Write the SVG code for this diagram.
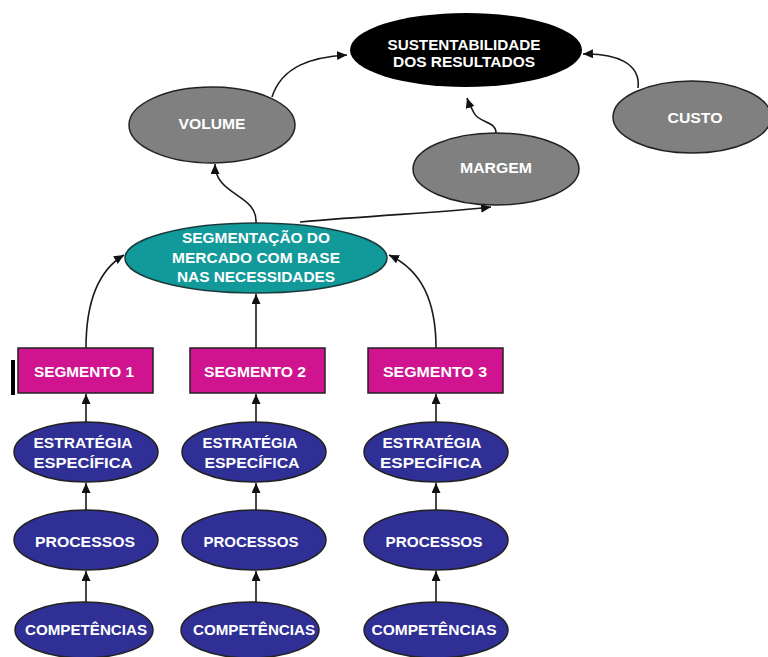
<svg xmlns="http://www.w3.org/2000/svg" width="768" height="657" viewBox="0 0 768 657">
  <style>
    .lbl { font-family: "Liberation Sans", Arial, sans-serif; font-size: 14px; font-weight: bold; fill: #ffffff; text-anchor: middle; }
    .edge { fill: none; stroke: #1a1a1a; stroke-width: 1.6; marker-end: url(#arrow); }
    .grey { fill: #808080; stroke: #222; stroke-width: 1.5; }
    .blue { fill: #2f2f95; stroke: #222; stroke-width: 1.5; }
    .seg { fill: #d0148f; stroke: #222; stroke-width: 1.5; }
  </style>
  <defs>
    <marker id="arrow" markerUnits="userSpaceOnUse" markerWidth="11" markerHeight="10" refX="10" refY="4.5" orient="auto">
      <path d="M0,0 L10,4.5 L0,9 z" fill="#111"/>
    </marker>
  </defs>

  <rect width="768" height="657" fill="#ffffff"/>

  <!-- connectors -->
  <g id="connectors">
    <path class="edge" d="M272,97 C282,66 312,57 347,55"/>
    <path class="edge" d="M638,88 C641,64 617,53 583,54"/>
    <path class="edge" d="M496,133 C496,121 479,123 474,113 C471,107 469,104 467,98"/>
    <path class="edge" d="M256,223 C258,194 215,196 215,164"/>
    <path class="edge" d="M300,222 C380,215 450,212 491,207"/>
    <path class="edge" d="M86,348 C86,300 99,270 124,255"/>
    <path class="edge" d="M256,348 L256,294"/>
    <path class="edge" d="M436,348 C436,300 421,270 389,255"/>
    <path class="edge" d="M86,423 L86,394"/>
    <path class="edge" d="M256,423 L256,394"/>
    <path class="edge" d="M436,423 L436,394"/>
    <path class="edge" d="M86,510 L86,483"/>
    <path class="edge" d="M256,510 L256,483"/>
    <path class="edge" d="M436,510 L436,483"/>
    <path class="edge" d="M86,602 L86,571"/>
    <path class="edge" d="M256,602 L256,571"/>
    <path class="edge" d="M436,602 L436,571"/>
  </g>

  <g id="sustentabilidade">
    <ellipse cx="466" cy="50" rx="116" ry="37" fill="#000"/>
    <text class="lbl" x="464" y="50" textLength="153" lengthAdjust="spacingAndGlyphs">SUSTENTABILIDADE</text>
    <text class="lbl" x="464" y="67" textLength="142" lengthAdjust="spacingAndGlyphs">DOS RESULTADOS</text>
  </g>

  <g id="volume">
    <ellipse class="grey" cx="212" cy="125" rx="83" ry="38"/>
    <text class="lbl" x="212" y="129" textLength="67" lengthAdjust="spacingAndGlyphs">VOLUME</text>
  </g>

  <g id="margem">
    <ellipse class="grey" cx="496" cy="169" rx="83" ry="36"/>
    <text class="lbl" x="496" y="173" textLength="72" lengthAdjust="spacingAndGlyphs">MARGEM</text>
  </g>

  <g id="custo">
    <ellipse class="grey" cx="692" cy="117" rx="79" ry="36"/>
    <text class="lbl" x="695" y="123" textLength="55" lengthAdjust="spacingAndGlyphs">CUSTO</text>
  </g>

  <g id="segmentacao">
    <ellipse cx="256" cy="258" rx="131" ry="35" fill="#12999a" stroke="#1a3a3a" stroke-width="1.5"/>
    <text class="lbl" x="256" y="243" textLength="148" lengthAdjust="spacingAndGlyphs">SEGMENTAÇÃO DO</text>
    <text class="lbl" x="256" y="263" textLength="168" lengthAdjust="spacingAndGlyphs">MERCADO COM BASE</text>
    <text class="lbl" x="256" y="282" textLength="158" lengthAdjust="spacingAndGlyphs">NAS NECESSIDADES</text>
  </g>

  <!-- left marker bar -->
  <rect x="11" y="360" width="4" height="35" fill="#000"/>

  <g id="segmento1">
    <rect class="seg" x="18" y="348" width="135" height="45"/>
    <text class="lbl" x="84" y="377" textLength="100" lengthAdjust="spacingAndGlyphs">SEGMENTO 1</text>
  </g>
  <g id="segmento2">
    <rect class="seg" x="190" y="348" width="135" height="45"/>
    <text class="lbl" x="255" y="377" textLength="102" lengthAdjust="spacingAndGlyphs">SEGMENTO 2</text>
  </g>
  <g id="segmento3">
    <rect class="seg" x="368" y="348" width="135" height="45"/>
    <text class="lbl" x="435" y="377" textLength="104" lengthAdjust="spacingAndGlyphs">SEGMENTO 3</text>
  </g>

  <g id="estrategia1">
    <ellipse class="blue" cx="86" cy="452" rx="72" ry="30"/>
    <text class="lbl" x="83" y="448" textLength="99" lengthAdjust="spacingAndGlyphs">ESTRATÉGIA</text>
    <text class="lbl" x="83" y="468" textLength="99" lengthAdjust="spacingAndGlyphs">ESPECÍFICA</text>
  </g>
  <g id="estrategia2">
    <ellipse class="blue" cx="254" cy="452" rx="72" ry="30"/>
    <text class="lbl" x="250" y="448" textLength="95" lengthAdjust="spacingAndGlyphs">ESTRATÉGIA</text>
    <text class="lbl" x="252" y="468" textLength="95" lengthAdjust="spacingAndGlyphs">ESPECÍFICA</text>
  </g>
  <g id="estrategia3">
    <ellipse class="blue" cx="436" cy="452" rx="72" ry="30"/>
    <text class="lbl" x="432" y="448" textLength="99" lengthAdjust="spacingAndGlyphs">ESTRATÉGIA</text>
    <text class="lbl" x="431" y="468" textLength="102" lengthAdjust="spacingAndGlyphs">ESPECÍFICA</text>
  </g>

  <g id="processos1">
    <ellipse class="blue" cx="86" cy="540" rx="72" ry="30"/>
    <text class="lbl" x="85" y="547" textLength="100" lengthAdjust="spacingAndGlyphs">PROCESSOS</text>
  </g>
  <g id="processos2">
    <ellipse class="blue" cx="254" cy="540" rx="72" ry="30"/>
    <text class="lbl" x="251" y="547" textLength="95" lengthAdjust="spacingAndGlyphs">PROCESSOS</text>
  </g>
  <g id="processos3">
    <ellipse class="blue" cx="436" cy="540" rx="72" ry="30"/>
    <text class="lbl" x="434" y="547" textLength="97" lengthAdjust="spacingAndGlyphs">PROCESSOS</text>
  </g>

  <g id="competencias1">
    <ellipse class="blue" cx="84" cy="630" rx="69" ry="28"/>
    <text class="lbl" x="86" y="635" textLength="122" lengthAdjust="spacingAndGlyphs">COMPETÊNCIAS</text>
  </g>
  <g id="competencias2">
    <ellipse class="blue" cx="250" cy="630" rx="69" ry="28"/>
    <text class="lbl" x="254" y="635" textLength="122" lengthAdjust="spacingAndGlyphs">COMPETÊNCIAS</text>
  </g>
  <g id="competencias3">
    <ellipse class="blue" cx="436" cy="630" rx="72" ry="28"/>
    <text class="lbl" x="434" y="635" textLength="125" lengthAdjust="spacingAndGlyphs">COMPETÊNCIAS</text>
  </g>
</svg>
